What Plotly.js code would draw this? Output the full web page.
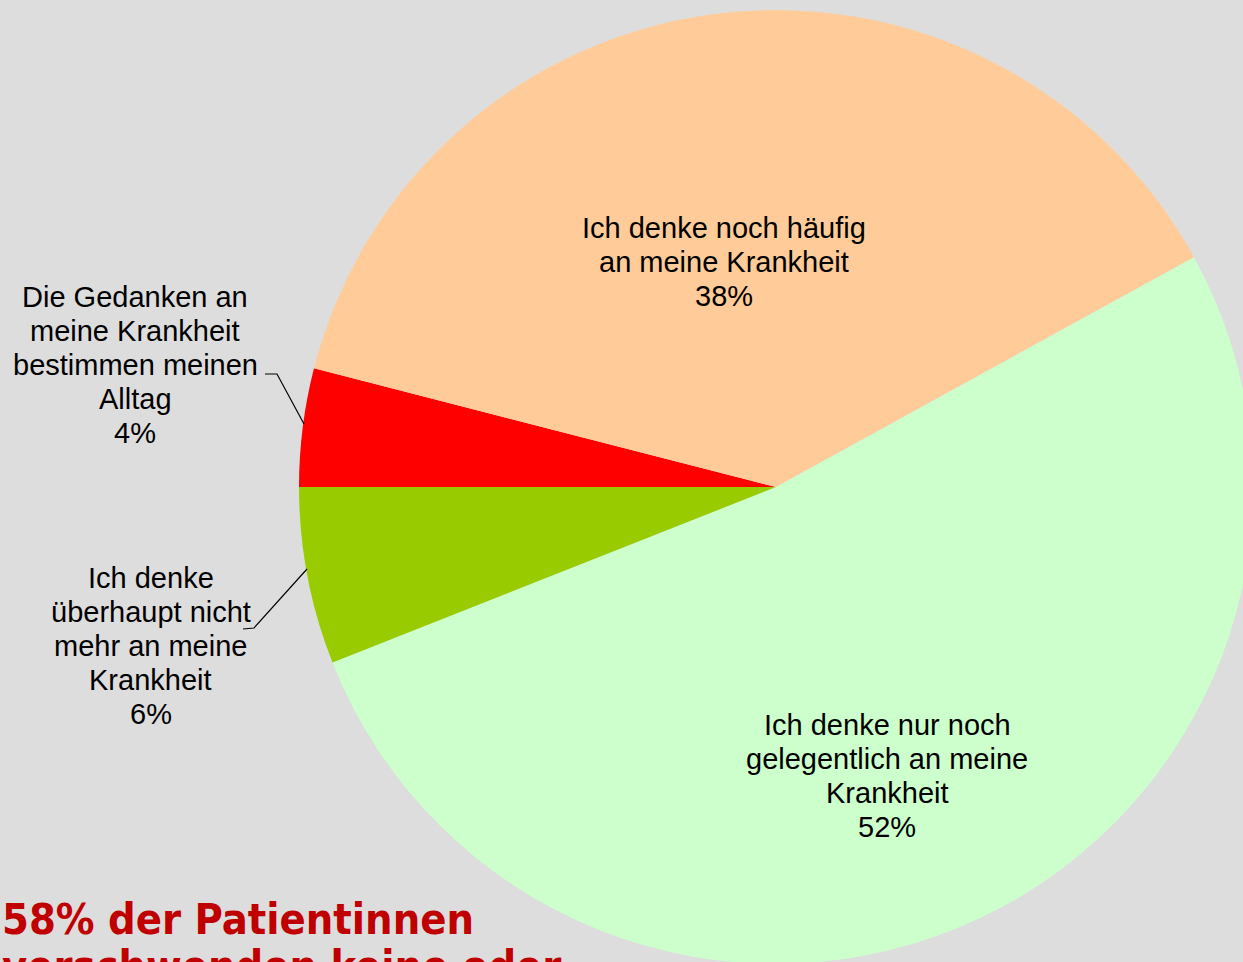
<!DOCTYPE html>
<html>
<head>
<meta charset="utf-8">
<script src="https://cdn.plot.ly/plotly-3.0.1.min.js"></script>
<style>
  html, body { margin: 0; padding: 0; overflow: hidden; background: #DDDDDD; }
  #chart { width: 1300px; height: 1000px; }
</style>
</head>
<body>
<div id="chart"></div>
<script>
// ---- data ----
const categories = [
  "Die Gedanken an meine Krankheit bestimmen meinen Alltag",
  "Ich denke noch häufig an meine Krankheit",
  "Ich denke nur noch gelegentlich an meine Krankheit",
  "Ich denke überhaupt nicht mehr an meine Krankheit"
];
const values = [4, 38, 52, 6];
const labelLines = [
  ["Die Gedanken an", "meine Krankheit", "bestimmen meinen", "Alltag"],
  ["Ich denke noch häufig", "an meine Krankheit"],
  ["Ich denke nur noch", "gelegentlich an meine", "Krankheit"],
  ["Ich denke", "überhaupt nicht", "mehr an meine", "Krankheit"]
];
const noteLines = ["58% der Patientinnen", "verschwenden keine oder"];

// ---- styles / layout ----
const sliceColors = ["#FF0000", "#FFCC99", "#CCFFCC", "#99CC00"];
const W = 1300, H = 1000;
const CX = 776, CY = 487, R = 477;
const labelFont = { family: "Liberation Sans, Arial, sans-serif", size: 29, color: "#000000" };
const labelSpacing = 33.8;
const labelAnchors = [ {x: 135, y: 307}, {x: 724, y: 238}, {x: 887, y: 735}, {x: 150.5, y: 588} ];
const noteFont = { family: "DejaVu Sans Condensed, DejaVu Sans, sans-serif", size: 43, color: "#C00000", weight: 700 };
const noteAnchor = { x: 0, y: 933 };
const noteSpacing = 47.5;
const leaders = [
  [[265, 374], [277, 374], [304, 424]],
  [[243, 629], [254, 628], [307, 569]]
];

const px = v => v / W;
const py = v => 1 - v / H;

const annotations = [];
function addLines(lines, anchor, spacing, font, xanchor) {
  lines.forEach((t, i) => {
    const baseline = anchor.y + i * spacing;
    annotations.push({
      xref: "paper", yref: "paper",
      x: px(anchor.x), y: py(baseline - 0.33 * font.size),
      xanchor: xanchor, yanchor: "middle",
      text: t, showarrow: false, font: font
    });
  });
}
labelLines.forEach((lines, i) => {
  addLines(lines.concat([values[i] + "%"]), labelAnchors[i], labelSpacing, labelFont, "center");
});
addLines(noteLines, noteAnchor, noteSpacing, noteFont, "left");

const shapes = leaders.map(pts => ({
  type: "path", xref: "paper", yref: "paper",
  path: pts.map((p, i) => (i ? "L" : "M") + px(p[0]) + "," + py(p[1])).join(" "),
  line: { color: "#000000", width: 1.2 }
}));

const trace = {
  type: "pie",
  labels: categories,
  values: values,
  sort: false,
  direction: "clockwise",
  rotation: 270,
  marker: { colors: sliceColors, line: { width: 0 } },
  textinfo: "none",
  hoverinfo: "label+percent",
  domain: { x: [px(CX - R), px(CX + R)], y: [py(CY + R), py(CY - R)] }
};

const layout = {
  width: W, height: H,
  margin: { l: 0, r: 0, t: 0, b: 0 },
  paper_bgcolor: "#DDDDDD",
  plot_bgcolor: "#DDDDDD",
  showlegend: false,
  annotations: annotations,
  shapes: shapes
};

Plotly.newPlot("chart", [trace], layout, { displayModeBar: false, staticPlot: true });
</script>
</body>
</html>
